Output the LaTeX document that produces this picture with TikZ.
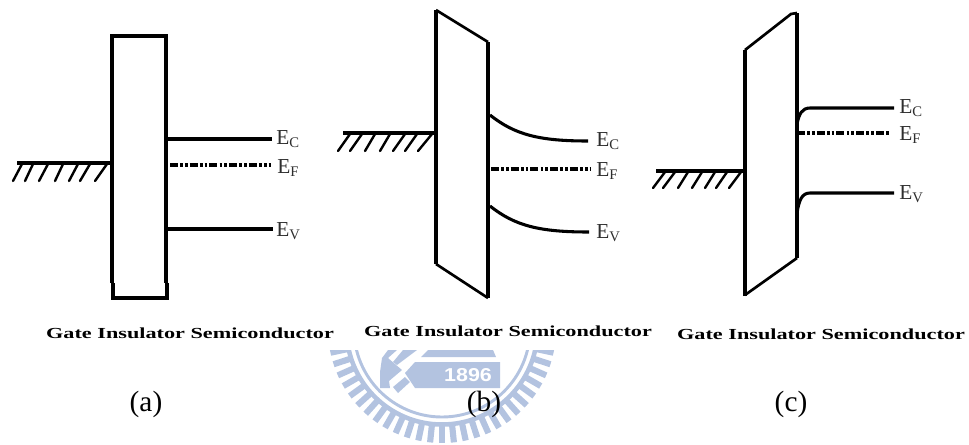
\documentclass[tikz,border=0pt]{standalone}
\usepackage{fontspec}
\setmainfont{Liberation Serif}
\newfontfamily\wmfont{Liberation Sans}
\definecolor{wm}{HTML}{B3C3E0}
\definecolor{lab}{HTML}{2E2E2E}
\tikzset{
  wall/.style={line width=2.8pt,black,line join=miter},
  slant/.style={line width=2pt,black},
  level/.style={line width=2.3pt,black},
  fermi/.style={line width=2.8pt,black,dash pattern=on 6pt off 1.6pt on 2pt off 1.6pt on 2pt off 1.6pt},
  gnd/.style={line width=2.3pt,black},
  hatch/.style={line width=1.8pt,black,line cap=round},
  enlab/.style={anchor=west,inner sep=0pt,text=lab,font=\fontsize{16}{16}\selectfont},
  gatelab/.style={inner sep=0pt,font=\bfseries\fontsize{11.5}{13}\selectfont},
  caplab/.style={inner sep=0pt,font=\fontsize{22}{24}\selectfont},
}
\newcommand{\enl}[1]{E\raisebox{-2.6pt}{\fontsize{11}{11}\selectfont #1}}
\newcommand{\gatetxt}{\scalebox{1.45}[1]{Gate Insulator Semiconductor}}
\begin{document}
\begin{tikzpicture}[x=0.75pt,y=-0.75pt]
\useasboundingbox (0,0) rectangle (969,444);
% watermark
\begin{scope}
\clip (300,350) rectangle (600,444);
\draw[wm,line width=2.2pt] (442,329) circle[radius=88];
\draw[wm,line width=3.4pt] (442,329) circle[radius=95.5];
\foreach \a in {-6,0,...,186}{
  \draw[wm,line width=4.6pt] ({442+97*cos(\a)},{329+97*sin(\a)}) -- ({442+114*cos(\a)},{329+114*sin(\a)});
}
\fill[wm] (415,362) -- (500,362) -- (500,388) -- (415,388) -- (405,373) -- cycle;
\fill[wm] (428,350) -- (493,350) -- (496,357) -- (421,357) -- cycle;
\fill[wm] (382,358) -- (388,350) -- (397,350) -- (388,358) -- (402,370) -- (389,381) -- (390,388) -- (380,388) -- (380,372) -- cycle;
\fill[wm] (403,350) -- (417,350) -- (397,365) -- (393,362) -- cycle;
\fill[wm] (393,387) -- (405,377) -- (410,382) -- (398,393) -- cycle;
\end{scope}
\node[inner sep=0pt,text=white,font=\wmfont\bfseries\fontsize{14}{14}\selectfont] (wmyear) at (468,375) {\scalebox{1.15}[1]{1896}};
% panel a
\draw[wall] (112,283) -- (112,36) -- (166,36) -- (166,283);
\draw[wall] (113,283) -- (113,298) -- (167,298) -- (167,283);
\draw[gnd] (17,163) -- (111,163);
\foreach \t/\b in {22/13,33/25,48/39,63/55,78/69,90/80,107/95}{\draw[hatch] (\t,164) -- (\b,181);}
\draw[level] (167,139) -- (272,139);
\draw[fermi] (170,165) -- (271,165);
\draw[level] (167,229) -- (273,229);
\node[enlab] (ac) at (276,139) {\enl{C}};
\node[enlab] (af) at (277,168) {\enl{F}};
\node[enlab] (av) at (276,231) {\enl{V}};
\node[gatelab] (ag) at (190,333) {\gatetxt};
\node[caplab] (ac1) at (146,404) {(a)};
% panel b
\draw[wall] (436,264) -- (436,10);
\draw[slant] (436,10) -- (488,42);
\draw[line width=3pt] (488,42) -- (488,298);
\draw[slant] (488,298) -- (436,264);
\draw[gnd] (343,133) -- (436,133);
\foreach \t/\b in {350/338,362/350,375/365,390/380,405/393,417/405,432/418}{\draw[hatch] (\t,134) -- (\b,151);}
\draw[level] (490,115) .. controls (515,135) and (540,141) .. (588,141);
\draw[fermi] (491,169) -- (590,169);
\draw[level] (490,206) .. controls (515,226) and (540,232) .. (589,232);
\node[enlab] (bc) at (596,141) {\enl{C}};
\node[enlab] (bf) at (596,171) {\enl{F}};
\node[enlab] (bv) at (596,233) {\enl{V}};
\node[gatelab] (bg) at (508,331) {\gatetxt};
\node[caplab] (bc1) at (484,404) {(b)};
% panel c
\draw[wall] (745,296) -- (745,50);
\draw[slant] (745,50) -- (791,14) -- (797,13);
\draw[line width=2.4pt] (797,13) -- (797,258);
\draw[slant] (797,258) -- (745,295);
\draw[gnd] (656,171) -- (745,171);
\foreach \t/\b in {665/653,675/663,688/678,702/692,715/705,727/716,741/729}{\draw[hatch] (\t,172) -- (\b,188);}
\draw[level] (797,124) .. controls (799,114) and (802,108) .. (810,108) -- (894,108);
\draw[fermi] (797,133) -- (890,133);
\draw[level] (797,213) .. controls (799,200) and (802,193) .. (810,193) -- (894,193);
\node[enlab] (cc) at (899,108) {\enl{C}};
\node[enlab] (cf) at (899,135) {\enl{F}};
\node[enlab] (cv) at (899,194) {\enl{V}};
\node[gatelab] (cg) at (821,334) {\gatetxt};
\node[caplab] (cc1) at (791,404) {(c)};
\end{tikzpicture}
\end{document}
